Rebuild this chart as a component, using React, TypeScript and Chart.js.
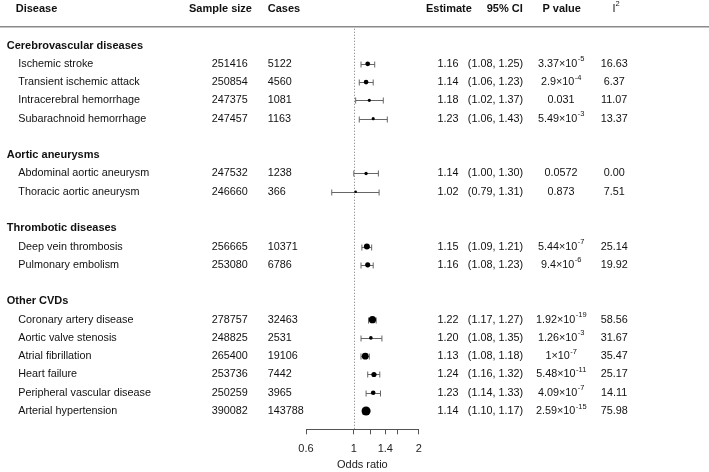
import React, { useEffect, useRef } from 'react';
import { Chart, registerables } from 'chart.js';

Chart.register(...registerables);

const groups = ['Cerebrovascular diseases', 'Aortic aneurysms', 'Thrombotic diseases', 'Other CVDs'];
const diseases = [
  'Ischemic stroke',
  'Transient ischemic attack',
  'Intracerebral hemorrhage',
  'Subarachnoid hemorrhage',
  'Abdominal aortic aneurysm',
  'Thoracic aortic aneurysm',
  'Deep vein thrombosis',
  'Pulmonary embolism',
  'Coronary artery disease',
  'Aortic valve stenosis',
  'Atrial fibrillation',
  'Heart failure',
  'Peripheral vascular disease',
  'Arterial hypertension',
];
const diseaseGroup = [0, 0, 0, 0, 1, 1, 2, 2, 3, 3, 3, 3, 3, 3];
const sampleSizes = [251416, 250854, 247375, 247457, 247532, 246660, 256665, 253080, 278757, 248825, 265400, 253736, 250259, 390082];
const cases = [5122, 4560, 1081, 1163, 1238, 366, 10371, 6786, 32463, 2531, 19106, 7442, 3965, 143788];
const estimates = [1.16, 1.14, 1.18, 1.23, 1.14, 1.02, 1.15, 1.16, 1.22, 1.2, 1.13, 1.24, 1.23, 1.14];
const ciLower = [1.08, 1.06, 1.02, 1.06, 1.0, 0.79, 1.09, 1.08, 1.17, 1.08, 1.08, 1.16, 1.14, 1.1];
const ciUpper = [1.25, 1.23, 1.37, 1.43, 1.3, 1.31, 1.21, 1.23, 1.27, 1.35, 1.18, 1.32, 1.33, 1.17];
const pValues = [
  '3.37×10^-5', '2.9×10^-4', '0.031', '5.49×10^-3', '0.0572', '0.873', '5.44×10^-7',
  '9.4×10^-6', '1.92×10^-19', '1.26×10^-3', '1×10^-7', '5.48×10^-11', '4.09×10^-7', '2.59×10^-15',
];
const i2Values = ['16.63', '6.37', '11.07', '13.37', '0.00', '7.51', '25.14', '19.92', '58.56', '31.67', '35.47', '25.17', '14.11', '75.98'];
const xTicks = [0.6, 1, 1.2, 1.4, 1.6, 2];
const xTickLabels = ['0.6', '1', '', '1.4', '', '2'];

const FONT = "'Liberation Sans', Arial, sans-serif";

// row layout: group header, its items, then a blank row
function buildRows() {
  const groupRow: number[] = [];
  const itemRow: number[] = [];
  let r = 0;
  groups.forEach((_, g) => {
    groupRow.push(r);
    r++;
    diseases.forEach((_, i) => {
      if (diseaseGroup[i] === g) {
        itemRow[i] = r;
        r++;
      }
    });
    r++;
  });
  return { groupRow, itemRow };
}

// marker size follows precision (inverse of log CI width)
function markerRadius(i: number) {
  return 0.8 + 0.23 / Math.log(ciUpper[i] / ciLower[i]);
}

export default function App() {
  const ref = useRef<HTMLCanvasElement | null>(null);

  useEffect(() => {
    if (!ref.current) return;
    const { groupRow, itemRow } = buildRows();

    const drawSup = (ctx: CanvasRenderingContext2D, s: string, cx: number, y: number) => {
      const parts = s.split('^');
      ctx.font = `10.8px ${FONT}`;
      const wm = ctx.measureText(parts[0]).width;
      if (parts.length === 1) {
        ctx.textAlign = 'center';
        ctx.fillText(parts[0], cx, y);
        return;
      }
      ctx.font = `7.5px ${FONT}`;
      const we = ctx.measureText(parts[1]).width;
      const start = cx - (wm + we) / 2;
      ctx.textAlign = 'left';
      ctx.font = `10.8px ${FONT}`;
      ctx.fillText(parts[0], start, y);
      ctx.font = `7.5px ${FONT}`;
      ctx.fillText(parts[1], start + wm + 0.5, y - 4.5);
    };

    const forestPlugin = {
      id: 'forestTable',
      beforeDatasetsDraw(chart: any) {
        const ctx: CanvasRenderingContext2D = chart.ctx;
        const xs = chart.scales.x;
        const ys = chart.scales.y;
        const area = chart.chartArea;
        ctx.save();
        // header rule
        const hy = ys.getPixelForValue(-1) - 0.5;
        ctx.strokeStyle = '#8a8a8a';
        ctx.lineWidth = 1.5;
        ctx.beginPath();
        ctx.moveTo(0, hy);
        ctx.lineTo(709, hy);
        ctx.stroke();
        // reference line at OR = 1
        const x1 = Math.round(xs.getPixelForValue(1)) + 0.5;
        ctx.strokeStyle = '#777';
        ctx.lineWidth = 1;
        ctx.setLineDash([1, 2]);
        ctx.beginPath();
        ctx.moveTo(x1, hy + 2);
        ctx.lineTo(x1, area.bottom);
        ctx.stroke();
        ctx.setLineDash([]);
        // whiskers
        ctx.strokeStyle = '#666';
        ctx.lineWidth = 1;
        diseases.forEach((_, i) => {
          const y = Math.round(ys.getPixelForValue(itemRow[i])) + 0.5;
          const xl = xs.getPixelForValue(ciLower[i]);
          const xh = xs.getPixelForValue(ciUpper[i]);
          ctx.beginPath();
          ctx.moveTo(xl, y);
          ctx.lineTo(xh, y);
          ctx.moveTo(xl, y - 3);
          ctx.lineTo(xl, y + 3);
          ctx.moveTo(xh, y - 3);
          ctx.lineTo(xh, y + 3);
          ctx.stroke();
        });
        ctx.restore();
      },
      afterDraw(chart: any) {
        const ctx: CanvasRenderingContext2D = chart.ctx;
        const ys = chart.scales.y;
        ctx.save();
        ctx.fillStyle = '#111';
        ctx.textBaseline = 'middle';
        // column headers
        const hy = ys.getPixelForValue(-2);
        ctx.font = `bold 11px ${FONT}`;
        ctx.textAlign = 'left';
        ctx.fillText('Disease', 15.7, hy);
        ctx.fillText('Sample size', 189, hy);
        ctx.fillText('Cases', 267.7, hy);
        ctx.fillText('Estimate', 426, hy);
        ctx.fillText('95% CI', 486.7, hy);
        ctx.textAlign = 'center';
        ctx.fillText('P value', 561.7, hy);
        ctx.textAlign = 'left';
        ctx.font = `10.8px ${FONT}`;
        ctx.fillText('I', 612.5, hy);
        ctx.font = `7.5px ${FONT}`;
        ctx.fillText('2', 615.5, hy - 5);
        // group headers
        ctx.font = `bold 11px ${FONT}`;
        groups.forEach((g, k) => {
          ctx.textAlign = 'left';
          ctx.fillText(g, 6.7, ys.getPixelForValue(groupRow[k]));
        });
        // rows
        diseases.forEach((d, i) => {
          const y = ys.getPixelForValue(itemRow[i]);
          ctx.font = `10.8px ${FONT}`;
          ctx.textAlign = 'left';
          ctx.fillText(d, 18.3, y);
          ctx.fillText(String(sampleSizes[i]), 211.7, y);
          ctx.fillText(String(cases[i]), 267.7, y);
          ctx.textAlign = 'right';
          ctx.fillText(estimates[i].toFixed(2), 458.5, y);
          ctx.fillText(`(${ciLower[i].toFixed(2)}, ${ciUpper[i].toFixed(2)})`, 523, y);
          drawSup(ctx, pValues[i], 561, y);
          ctx.font = `10.8px ${FONT}`;
          ctx.textAlign = 'center';
          ctx.fillText(i2Values[i], 614.2, y);
        });
        ctx.restore();
      },
    };

    const { itemRow: rows } = buildRows();
    const chart = new Chart(ref.current, {
      type: 'scatter',
      data: {
        datasets: [
          {
            data: diseases.map((_, i) => ({ x: estimates[i], y: rows[i] })),
            backgroundColor: '#000',
            borderWidth: 0,
            pointRadius: (c: any) => markerRadius(c.dataIndex),
            pointHoverRadius: (c: any) => markerRadius(c.dataIndex),
            clip: false as any,
          },
        ],
      },
      options: {
        animation: false,
        responsive: false,
        devicePixelRatio: 1,
        layout: { padding: { left: 306, right: 290.3, top: 9, bottom: 0 } },
        plugins: { legend: { display: false }, tooltip: { enabled: false } },
        events: [],
        scales: {
          x: {
            type: 'logarithmic',
            min: 0.6,
            max: 2,
            afterBuildTicks: (s: any) => {
              s.ticks = xTicks.map((v) => ({ value: v }));
            },
            afterFit: (s: any) => {
              s.height = 42.7;
            },
            ticks: {
              autoSkip: false,
              maxRotation: 0,
              padding: 8.5,
              color: '#222',
              font: { family: FONT, size: 11 },
              callback: (_v: any, i: number) => xTickLabels[i],
            },
            grid: { drawOnChartArea: false, drawTicks: true, tickLength: 5, color: '#555', lineWidth: 1 },
            border: { display: true, color: '#555', width: 1 },
            title: {
              display: true,
              text: 'Odds ratio',
              color: '#222',
              font: { family: FONT, size: 11 },
              padding: { top: 0, bottom: 0 },
            },
          },
          y: { type: 'linear', reverse: true, min: -2, max: 21, display: false },
        },
      } as any,
      plugins: [forestPlugin],
    });
    return () => chart.destroy();
  }, []);

  return (
    <div style={{ position: 'absolute', left: 0, top: 0, width: 709, height: 472, background: '#fff' }}>
      <canvas ref={ref} width={709} height={472} style={{ width: 709, height: 472, display: 'block' }} />
    </div>
  );
}
